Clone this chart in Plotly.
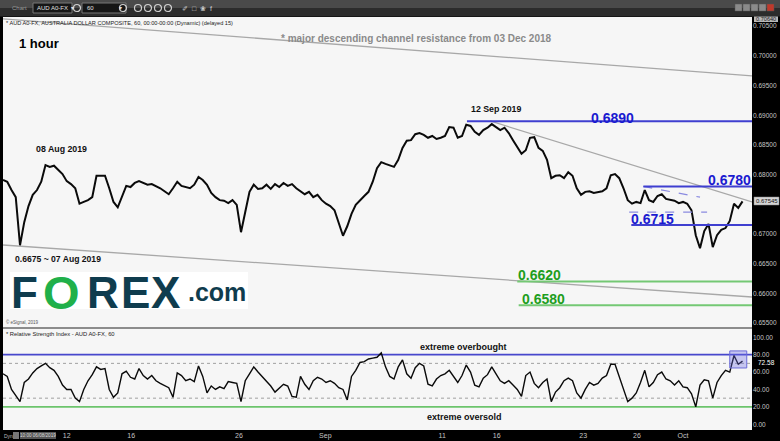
import plotly.graph_objects as go

W, H = 780, 441

# ---------------- data ----------------
# AUD/USD closes, sampled every 6 trading hours from 06 Aug 2019 10:00
close = [
    0.6791, 0.6788, 0.6774, 0.6762, 0.6681, 0.6720, 0.6747, 0.6766, 0.6774, 0.6788,
    0.6816, 0.6813, 0.6815, 0.6808, 0.6801, 0.6789, 0.6784, 0.6777, 0.6751, 0.6754,
    0.6757, 0.6762, 0.6798, 0.6798, 0.6798, 0.6777, 0.6754, 0.6745, 0.6762, 0.6781,
    0.6779, 0.6786, 0.6789, 0.6786, 0.6783, 0.6784, 0.6781, 0.6777, 0.6772, 0.6767,
    0.6777, 0.6788, 0.6781, 0.6779, 0.6777, 0.6783, 0.6796, 0.6791, 0.6783, 0.6769,
    0.6762, 0.6757, 0.6756, 0.6752, 0.6757, 0.6749, 0.6703, 0.6737, 0.6771, 0.6783,
    0.6776, 0.6777, 0.6783, 0.6776, 0.6784, 0.6779, 0.6786, 0.6781, 0.6784, 0.6777,
    0.6772, 0.6767, 0.6771, 0.6762, 0.6766, 0.6757, 0.6751, 0.6747, 0.6740, 0.6717,
    0.6697, 0.6713, 0.6734, 0.6749, 0.6757, 0.6764, 0.6771, 0.6788, 0.6811, 0.6821,
    0.6818, 0.6815, 0.6813, 0.6825, 0.6845, 0.6857, 0.6858, 0.6868, 0.6870, 0.6867,
    0.6862, 0.6865, 0.6860, 0.6862, 0.6865, 0.6880, 0.6879, 0.6862, 0.6865, 0.6884,
    0.6882, 0.6872, 0.6867, 0.6875, 0.6879, 0.6885, 0.6880, 0.6875, 0.6879, 0.6870,
    0.6858, 0.6847, 0.6835, 0.6841, 0.6862, 0.6863, 0.6845, 0.6840, 0.6825, 0.6794,
    0.6798, 0.6799, 0.6794, 0.6804, 0.6798, 0.6777, 0.6766, 0.6771, 0.6772, 0.6769,
    0.6771, 0.6772, 0.6777, 0.6799, 0.6801, 0.6794, 0.6777, 0.6757, 0.6751, 0.6754,
    0.6752, 0.6774, 0.6757, 0.6754, 0.6764, 0.6767, 0.6759, 0.6757, 0.6756, 0.6752,
    0.6754, 0.6751, 0.6740, 0.6698, 0.6676, 0.6705, 0.6717, 0.6678, 0.6698, 0.6707,
    0.6710, 0.6722, 0.6751, 0.6744, 0.6755,
]

# RSI(14) on the same samples
rsi = [
    58, 55, 40, 33, 26, 48, 52, 59, 64, 67,
    70, 65, 62, 55, 45, 40, 40, 30, 26, 40,
    50, 57, 66, 63, 64, 40, 31, 36, 58, 61,
    54, 52, 64, 56, 52, 56, 50, 47, 44, 42,
    31, 59, 56, 50, 52, 49, 67, 55, 36, 44,
    40, 43, 41, 49, 48, 47, 26, 50, 58, 66,
    60, 55, 50, 44, 37, 42, 46, 44, 32, 31,
    55, 46, 40, 50, 54, 52, 48, 50, 47, 42,
    40, 28, 55, 62, 71, 72, 75, 76, 77, 82,
    66, 55, 52, 66, 74, 58, 53, 65, 70, 67,
    46, 44, 52, 56, 58, 62, 55, 48, 56, 68,
    60, 45, 43, 53, 57, 66, 58, 50, 47, 50,
    45, 40, 32, 56, 60, 47, 42, 48, 52, 26,
    37, 42, 50, 53, 50, 36, 30, 40, 48, 45,
    47, 53, 56, 69, 69, 55, 42, 26, 30, 36,
    48, 62, 43, 48, 57, 60, 52, 50, 45, 50,
    43, 42, 35, 20, 45, 51, 50, 30, 48, 56,
    62, 60, 79, 69, 72.58,
]

HOUR_STEP = 6
hours = [i * HOUR_STEP for i in range(len(close))]

tick_hours = [90, 181, 333, 455, 620, 697, 819, 895, 960]
tick_text = ["12", "16", "26", "Sep", "11", "16", "23", "26", "Oct"]

# 0.675 is hidden behind the last-price label, as in the original
price_ticks = [0.655, 0.660, 0.665, 0.670, 0.680, 0.685, 0.690, 0.695, 0.700, 0.705]
rsi_ticks = [0, 20, 40, 60, 80, 100]

# horizontal levels: (price, start hour)
blue_levels = [(0.6890, 655), (0.6780, 904), (0.6715, 887)]
green_levels = [(0.6620, 726), (0.6580, 728)]
# trend lines: (hour0, price0, hour1, price1)
channel_upper = (0, 0.70622, 1057.4, 0.69661)
channel_lower = (0, 0.66815, 1057.4, 0.65939)
sep_trend = (687.5, 0.68903, 1057.4, 0.67539)
triangle_top = (904, 0.6780, 984, 0.6762)
triangle_base = (884, 0.6737, 994, 0.6737)

rsi_overbought, rsi_oversold = 80, 20
rsi_dotted = [70, 30]
last_price = 0.67545
last_rsi = 72.58

X_MAX = 1057.4
P_RANGE = [0.65434, 0.70654]
R_RANGE = [-6.6, 109.5]

FONT = "Liberation Sans, Arial, sans-serif"


def fx(px):
    return px / W


def fy(py):
    return 1 - py / H


fig = go.Figure()
fig.add_trace(go.Scatter(x=hours, y=close, mode="lines", line=dict(color="#0a0a0a", width=2.0),
                         xaxis="x", yaxis="y", hoverinfo="skip", showlegend=False))
fig.add_trace(go.Scatter(x=hours, y=rsi, mode="lines", line=dict(color="#0a0a0a", width=1.4),
                         xaxis="x2", yaxis="y2", hoverinfo="skip", showlegend=False))

shapes = []
# toolbar
shapes.append(dict(type="rect", xref="paper", yref="paper", x0=0, x1=1, y0=fy(8), y1=1,
                   fillcolor="#4a4a4a", line_width=0, layer="below"))
shapes.append(dict(type="rect", xref="paper", yref="paper", x0=0, x1=1, y0=fy(16.5), y1=fy(8),
                   fillcolor="#2c2c2c", line_width=0, layer="below"))
for bx0, bx1 in [(33, 72), (82, 126)]:
    shapes.append(dict(type="rect", xref="paper", yref="paper", x0=fx(bx0), x1=fx(bx1),
                       y0=fy(13), y1=fy(3), fillcolor="#161616", line=dict(color="#777", width=1)))
for cx in [77, 123, 138, 148, 158, 168]:
    shapes.append(dict(type="circle", xref="paper", yref="paper", x0=fx(cx - 3.5), x1=fx(cx + 3.5),
                       y0=fy(11.5), y1=fy(4.5), line=dict(color="#d0d0d0", width=1.2)))
for i, bx in enumerate([735, 743, 751, 759, 767]):
    shapes.append(dict(type="rect", xref="paper", yref="paper", x0=fx(bx), x1=fx(bx + 7),
                       y0=fy(11), y1=fy(4), fillcolor="#c0392b" if i == 4 else "#8a8a8a",
                       line=dict(color="#555", width=0.5)))
# panel separator
shapes.append(dict(type="rect", xref="paper", yref="paper", x0=fx(3), x1=fx(752), y0=fy(329), y1=fy(327),
                   fillcolor="#8c8c8c", line_width=0))

# channel / trend lines
for (h0, p0, h1, p1) in [channel_upper, channel_lower, sep_trend]:
    shapes.append(dict(type="line", xref="x", yref="y", x0=h0, y0=p0, x1=h1, y1=p1,
                       line=dict(color="#a8a8a8", width=1.3), layer="below"))
for (h0, p0, h1, p1) in [triangle_top, triangle_base]:
    shapes.append(dict(type="line", xref="x", yref="y", x0=h0, y0=p0, x1=h1, y1=p1,
                       line=dict(color="#8a8ae0", width=1.2, dash="dash")))
for p, h0 in blue_levels:
    shapes.append(dict(type="line", xref="x", yref="y", x0=h0, y0=p, x1=X_MAX, y1=p,
                       line=dict(color="#3f3fd0", width=2)))
for p, h0 in green_levels:
    shapes.append(dict(type="line", xref="x", yref="y", x0=h0, y0=p, x1=X_MAX, y1=p,
                       line=dict(color="#74c874", width=2)))

# RSI levels
shapes.append(dict(type="line", xref="x2", yref="y2", x0=0, x1=X_MAX, y0=rsi_overbought, y1=rsi_overbought,
                   line=dict(color="#4848cc", width=1.6), layer="below"))
shapes.append(dict(type="line", xref="x2", yref="y2", x0=0, x1=X_MAX, y0=rsi_oversold, y1=rsi_oversold,
                   line=dict(color="#6cc46c", width=1.8), layer="below"))
for lv in rsi_dotted:
    shapes.append(dict(type="line", xref="x2", yref="y2", x0=0, x1=X_MAX, y0=lv, y1=lv,
                       line=dict(color="#a0a0a0", width=1, dash="dot"), layer="below"))
shapes.append(dict(type="rect", xref="x2", yref="y2", x0=1026, x1=1050, y0=64.7, y1=84.3,
                   fillcolor="rgba(110,110,230,0.35)", line=dict(color="#6a6ad8", width=1)))

# logo box
shapes.append(dict(type="rect", xref="paper", yref="paper", x0=fx(10), x1=fx(248), y0=fy(309), y1=fy(272),
                   fillcolor="white", line_width=0))

# right axis value boxes
shapes.append(dict(type="rect", xref="paper", yref="paper", x0=fx(754), x1=fx(778), y0=fy(22), y1=fy(16.5),
                   fillcolor="#b8b8b8", line_width=0))
shapes.append(dict(type="rect", xref="paper", yref="paper", x0=fx(754), x1=fx(779), y0=fy(205), y1=fy(197),
                   fillcolor="#d4d4d4", line=dict(color="#888", width=0.5)))
# bottom date box
shapes.append(dict(type="rect", xref="paper", yref="paper", x0=fx(13), x1=fx(19), y0=fy(439), y1=fy(432),
                   fillcolor="#777", line_width=0))
shapes.append(dict(type="rect", xref="paper", yref="paper", x0=fx(20), x1=fx(56), y0=fy(439), y1=fy(432),
                   fillcolor="#555", line_width=0))

ann = []


def text(px, py, s, size, color, bold=False, anchor="left", family=FONT, bg=None):
    a = dict(x=fx(px), y=fy(py), xref="paper", yref="paper", text=f"<b>{s}</b>" if bold else s,
             showarrow=False, xanchor=anchor, yanchor="middle",
             font=dict(family=family, size=size, color=color))
    if bg:
        a["bgcolor"] = bg
    ann.append(a)


# toolbar texts
text(10, 8.5, "Chart", 6, "#9a9a9a")
text(35, 8.5, "AUD A0-FX  \u25be", 6, "#e0e0e0")
text(85, 8.5, "60", 6, "#e0e0e0")
text(117, 8.5, "\u25be", 6, "#e0e0e0")
text(180, 8.5, "\u2710  \u25a1  \u2740  f", 7, "#d0d0d0")

text(4, 23, "* AUD A0-FX, AUSTRALIA DOLLAR COMPOSITE, 60, 00:00-00:00 (Dynamic) (delayed 15)", 5.6, "#222")
text(17, 44, "1 hour", 13, "#000", bold=True)
text(279, 39, "* major descending channel resistance from 03 Dec 2018", 10, "#8a8a8a", bold=True)
text(496, 108.5, "12 Sep 2019", 8.8, "#111", bold=True, anchor="center")
text(62, 148.5, "08 Aug 2019", 8.8, "#111", bold=True, anchor="center")
text(57.5, 258.5, "0.6675 ~ 07 Aug 2019", 8.6, "#111", bold=True, anchor="center")

text(612, 117.5, "0.6890", 14, "#1a1ad0", bold=True, anchor="center")
text(753, 179.5, "0.6780", 14, "#1a1ad0", bold=True, anchor="right")
text(652, 219, "0.6715", 14, "#1a1ad0", bold=True, anchor="center")
text(539, 275, "0.6620", 14, "#1e9e1e", bold=True, anchor="center")
text(543, 299, "0.6580", 14, "#1e9e1e", bold=True, anchor="center")

# FOREX.com logo
logo_teal = "#0f3c4e"
for cx, ch, col in [(24, "F", logo_teal), (62, "O", "#20b04a"), (103, "R", logo_teal),
                    (135, "E", logo_teal), (165, "X", logo_teal)]:
    text(cx, 292, ch, 44 if ch != "O" else 47, col, bold=True, anchor="center")
text(217, 292, ".com", 25, logo_teal, bold=True, anchor="center")
text(4, 322, "\u00a9 eSignal, 2019", 4.5, "#555")

# RSI texts
text(4, 334, "* Relative Strength Index - AUD A0-FX, 60", 5.8, "#222")
text(463, 347, "extreme overbought", 9, "#111", bold=True, anchor="center")
text(464, 417, "extreme oversold", 9, "#111", bold=True, anchor="center")

# right axis specials
text(766, 19.2, "0.70640", 5.6, "#222", anchor="center")
text(766.5, 201, f"{last_price:.5f}", 6, "#111", anchor="center")
text(766, 362, f"{last_rsi:.2f}", 6.5, "#ffffff", anchor="center")

# bottom bar
text(2, 435.5, "Dyn", 5, "#bbb")
text(38, 435.5, "10:00 06/08/2019", 4.6, "#ddd", anchor="center")

axis_common = dict(showgrid=False, zeroline=False, showline=False, automargin=False)

fig.update_layout(
    width=W, height=H,
    margin=dict(l=0, r=0, t=0, b=0),
    paper_bgcolor="#000000",
    plot_bgcolor="#f6f6f6",
    font=dict(family=FONT),
    xaxis=dict(domain=[fx(3), fx(752)], range=[0, X_MAX], anchor="y", showticklabels=False,
               ticks="", **axis_common),
    yaxis=dict(domain=[fy(327), fy(17)], range=P_RANGE, anchor="x", side="right",
               tickvals=price_ticks, tickformat=".5f", ticks="",
               tickfont=dict(size=6.5, color="#c4c4c4"), **axis_common),
    xaxis2=dict(domain=[fx(3), fx(752)], range=[0, X_MAX], anchor="y2", matches="x",
                tickvals=tick_hours, ticktext=tick_text, ticks="",
                tickfont=dict(size=7, color="#c4c4c4"), **axis_common),
    yaxis2=dict(domain=[fy(430), fy(329)], range=R_RANGE, anchor="x2", side="right",
                tickvals=rsi_ticks, tickformat=".2f", ticks="",
                tickfont=dict(size=6.5, color="#c4c4c4"), **axis_common),
    shapes=shapes,
    annotations=ann,
    showlegend=False,
)

fig.write_html(
    "out.html",
    config={"displayModeBar": False},
    post_script="document.body.style.margin='0';document.body.style.overflow='hidden';",
)
